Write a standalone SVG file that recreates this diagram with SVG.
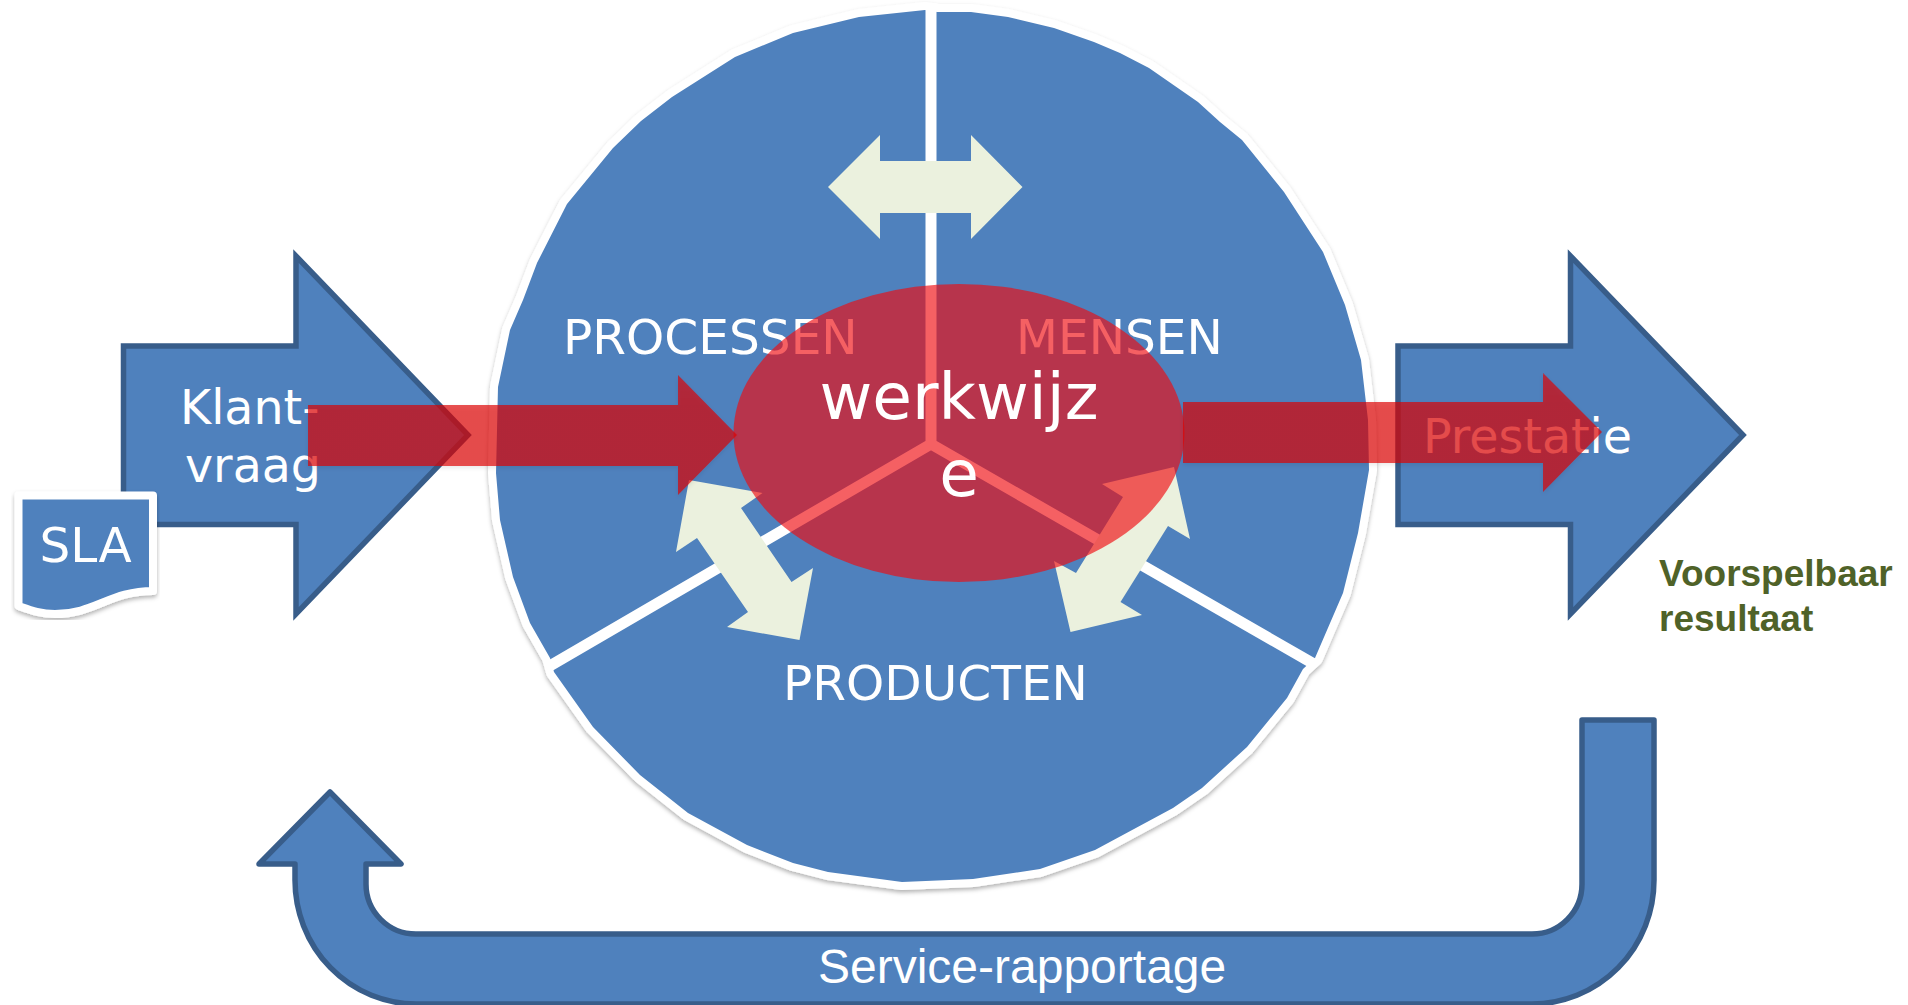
<svg xmlns="http://www.w3.org/2000/svg" width="1908" height="1005" viewBox="0 0 1908 1005">
<style>
.block{fill:#4f81bd;stroke:#385d8a;stroke-width:5.5;stroke-linejoin:miter}
.t{font-family:"DejaVu Sans",sans-serif;fill:#fff;font-size:47.5px}
.c{font-size:48.6px}
.w{font-size:64.6px}
.a{font-family:"Liberation Sans",Arial,sans-serif}
.dbl{fill:#ebf1de}
.spoke{stroke:#fff;stroke-width:11;fill:none;stroke-linecap:butt;stroke-linejoin:miter}
.red{fill:url(#rg);filter:url(#rs)}
</style>
<defs>
<filter id="sh" x="-5%" y="-5%" width="110%" height="110%"><feDropShadow dx="0" dy="2.5" stdDeviation="2" flood-color="#000" flood-opacity=".3"/></filter>
<filter id="rs" x="-5%" y="-10%" width="110%" height="125%"><feDropShadow dx="0" dy="2" stdDeviation="2" flood-color="#000" flood-opacity=".12"/></filter>
<linearGradient id="rg" x1="0" y1="0" x2="0" y2="1"><stop offset="0" stop-color="#e20a0a" stop-opacity=".66"/><stop offset=".3" stop-color="#dd0000" stop-opacity=".68"/><stop offset="1" stop-color="#dd0000" stop-opacity=".68"/></linearGradient>
</defs>
<rect width="1908" height="1005" fill="#fff"/>
<g id="node-cirkel">
<path filter="url(#sh)" d="M925 10 L859 17 L793 33 L735 57 L672 97 L641 121 L613 148 L567 204 L537 263 L523 300 L510 330 L498 387 L496 473 L500 520 L513 577 L530 623 L550 658 L554 672 L593 727 L640 775 L688 813 L747 845 L793 863 L828 872 L902 882 L973 879 L1040 869 L1095 850 L1173 808 L1202 788 L1247 747 L1287 698 L1303 669 L1315 658 L1343 593 L1358 533 L1369 470 L1368 420 L1361 360 L1345 305 L1323 252 L1284 192 L1242 140 L1220 122 L1198 102 L1149 68 L1120 53 L1094 42 L1054 28 L1008 17 L971 12 L937 12 Z" fill="#4f81bd" stroke="#fff" stroke-width="16" stroke-linejoin="round" paint-order="stroke"/>
<path class="spoke" d="M931 3 V444 M548 667 L931 444 L1314 664"/>
<polygon class="dbl" points="828,187 880,135 880,161 971,161 971,135 1022.5,187 971,239 971,213 880,213 880,239"/>
<polygon class="dbl" points="689,480 762.5,493 741,508 791.5,582 813,568 799.5,640 727,627 748,612 697,538 676,552"/>
<polygon class="dbl" points="1174,467 1102,484 1123,497 1076,573 1054,561 1070.5,632 1142,615 1120.5,602 1168,526 1190,539"/>
<text class="t c" x="563" y="354">PROCESSEN</text>
<text class="t c" x="1016" y="354">MENSEN</text>
<text class="t c" x="783" y="700">PRODUCTEN</text>
</g>
<g id="node-klantvraag">
<path class="block" d="M123.500 346 H296 V256 L468 435 L296 614 V524.500 H123.500 Z"/>
<text class="t" x="180" y="424">Klant-</text>
<text class="t" x="185" y="482">vraag</text>
</g>
<g id="node-sla">
<path filter="url(#sh)" d="M18.5 495.5 H153 V591 C110 591 95 614 55 614 C40 614 30 610 18.5 606 Z" fill="#4f81bd" stroke="#fff" stroke-width="8" stroke-linejoin="round"/>
<text class="t" x="39.500" y="562" style="font-size:48.500px">SLA</text>
</g>
<g id="node-prestatie">
<path class="block" d="M1398 346 H1570.500 V256 L1743 435 L1570.500 614 V524.500 H1398 Z"/>
<text class="t" x="1423" y="453">Prestatie</text>
</g>
<g id="node-resultaat">
<text class="a" x="1659" y="586" font-size="37" font-weight="700" fill="#4f6228">Voorspelbaar</text>
<text class="a" x="1659" y="631" font-size="37" font-weight="700" fill="#4f6228">resultaat</text>
</g>
<g id="node-rapportage">
<path class="block" style="stroke-linejoin:round" d="M1654 720 V880 A122 124 0 0 1 1532 1004 H416 A121 124 0 0 1 295 880 V864 H259 L330 792 L401 864 H366 V884 A50 50 0 0 0 416 934 H1532 A50 50 0 0 0 1582 884 V720 Z"/>
<text class="a" x="818" y="983" font-size="48" fill="#fff">Service-rapportage</text>
</g>
<g id="node-werkwijze">
<ellipse cx="959" cy="433" rx="225.5" ry="149" fill="#f00a10" fill-opacity=".65"/>
<text class="t w" x="959" y="419" text-anchor="middle">werkwijz</text>
<text class="t w" x="959" y="496" text-anchor="middle">e</text>
</g>
<g id="connectors">
<polygon class="red" points="308,405 678,405 678,375 737,435 678,495 678,466 308,466"/>
<polygon class="red" points="1183,402 1543,402 1543,373 1602,432 1543,492 1543,463 1183,463"/>
</g>
</svg>
